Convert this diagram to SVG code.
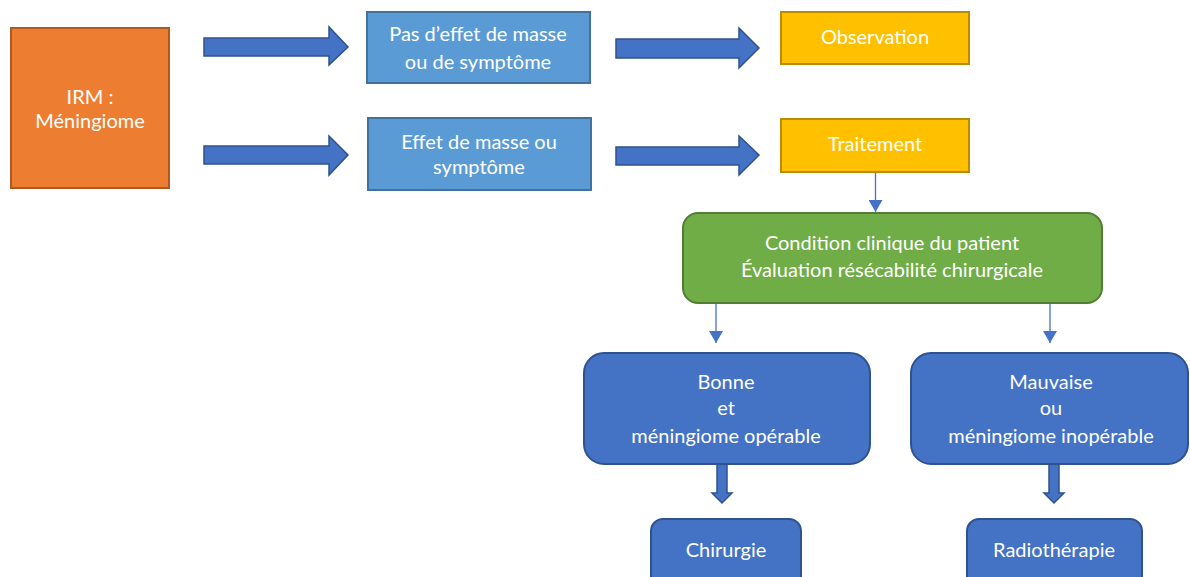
<svg xmlns="http://www.w3.org/2000/svg" width="1190" height="577" viewBox="0 0 1190 577">
<style>
text{font-family:Lato,"Open Sans","Liberation Sans",sans-serif;font-size:20px;fill:#fff;text-anchor:middle}
.orange{fill:#ED7D31;stroke:#AE5A21;stroke-width:2}
.lblue{fill:#5B9BD5;stroke:#41719C;stroke-width:2}
.yellow{fill:#FFC000;stroke:#BC8C00;stroke-width:2}
.green{fill:#70AD47;stroke:#507E32;stroke-width:2}
.blue{fill:#4472C4;stroke:#2F528F;stroke-width:2}
.barrow{fill:#4472C4;stroke:#2F528F;stroke-width:1.5}
.conn{stroke:#4472C4;stroke-width:1.3;fill:none}
</style>
<defs>
<marker id="ah2" viewBox="0 0 12 14" refX="12" refY="7" markerWidth="14" markerHeight="14" markerUnits="userSpaceOnUse" orient="auto">
<path d="M0,0 L12,7 L0,14 z" fill="#4472C4"/>
</marker>
</defs>
<g id="connectors">
<path class="barrow" d="M204,38 H329 V27 L348,47 L329,65 V56 H204 Z"/>
<path class="barrow" d="M204,146 H329 V136 L348,155 L329,175 V164 H204 Z"/>
<path class="barrow" d="M616,39 H739 V28 L759,48 L739,68 V58 H616 Z"/>
<path class="barrow" d="M616,147 H739 V136 L759,155 L739,175 V165 H616 Z"/>
<path class="barrow" d="M717,464 H727 V493 H732 L722,503 L712,493 H717 Z"/>
<path class="barrow" d="M1049,464 H1059 V493 H1064 L1054,503 L1044,493 H1049 Z"/>
<line class="conn" x1="875.5" y1="172" x2="875.5" y2="212" marker-end="url(#ah2)"/>
<line class="conn" x1="716" y1="303" x2="716" y2="343" marker-end="url(#ah2)"/>
<line class="conn" x1="1050" y1="303" x2="1050" y2="343" marker-end="url(#ah2)"/>
</g>
<g id="irm">
<rect class="orange" x="11" y="28" width="158" height="160"/>
<text x="90" y="104">IRM :</text>
<text x="90" y="128">Méningiome</text>
</g>
<g id="pas-effet">
<rect class="lblue" x="367" y="12" width="223" height="71"/>
<text x="478" y="41">Pas d’effet de masse</text>
<text x="478" y="69">ou de symptôme</text>
</g>
<g id="effet">
<rect class="lblue" x="368" y="118" width="223" height="72"/>
<text x="479" y="149">Effet de masse ou</text>
<text x="479" y="174">symptôme</text>
</g>
<g id="observation">
<rect class="yellow" x="781" y="12" width="188" height="52"/>
<text x="875" y="44">Observation</text>
</g>
<g id="traitement">
<rect class="yellow" x="781" y="119" width="188" height="53"/>
<text x="875" y="151">Traitement</text>
</g>
<g id="condition">
<rect class="green" x="683" y="213" width="419" height="90" rx="15"/>
<text x="892" y="250">Condition clinique du patient</text>
<text x="892" y="277">Évaluation résécabilité chirurgicale</text>
</g>
<g id="bonne">
<rect class="blue" x="584" y="353" width="286" height="111" rx="20"/>
<text x="726" y="389">Bonne</text>
<text x="726" y="415">et</text>
<text x="726" y="443">méningiome opérable</text>
</g>
<g id="mauvaise">
<rect class="blue" x="911" y="353" width="277" height="111" rx="20"/>
<text x="1051" y="389">Mauvaise</text>
<text x="1051" y="415">ou</text>
<text x="1051" y="443">méningiome inopérable</text>
</g>
<g id="chirurgie">
<rect class="blue" x="651" y="519" width="150" height="70" rx="12"/>
<text x="726" y="557">Chirurgie</text>
</g>
<g id="radiotherapie">
<rect class="blue" x="967" y="519" width="175" height="70" rx="12"/>
<text x="1054" y="557">Radiothérapie</text>
</g>
</svg>
